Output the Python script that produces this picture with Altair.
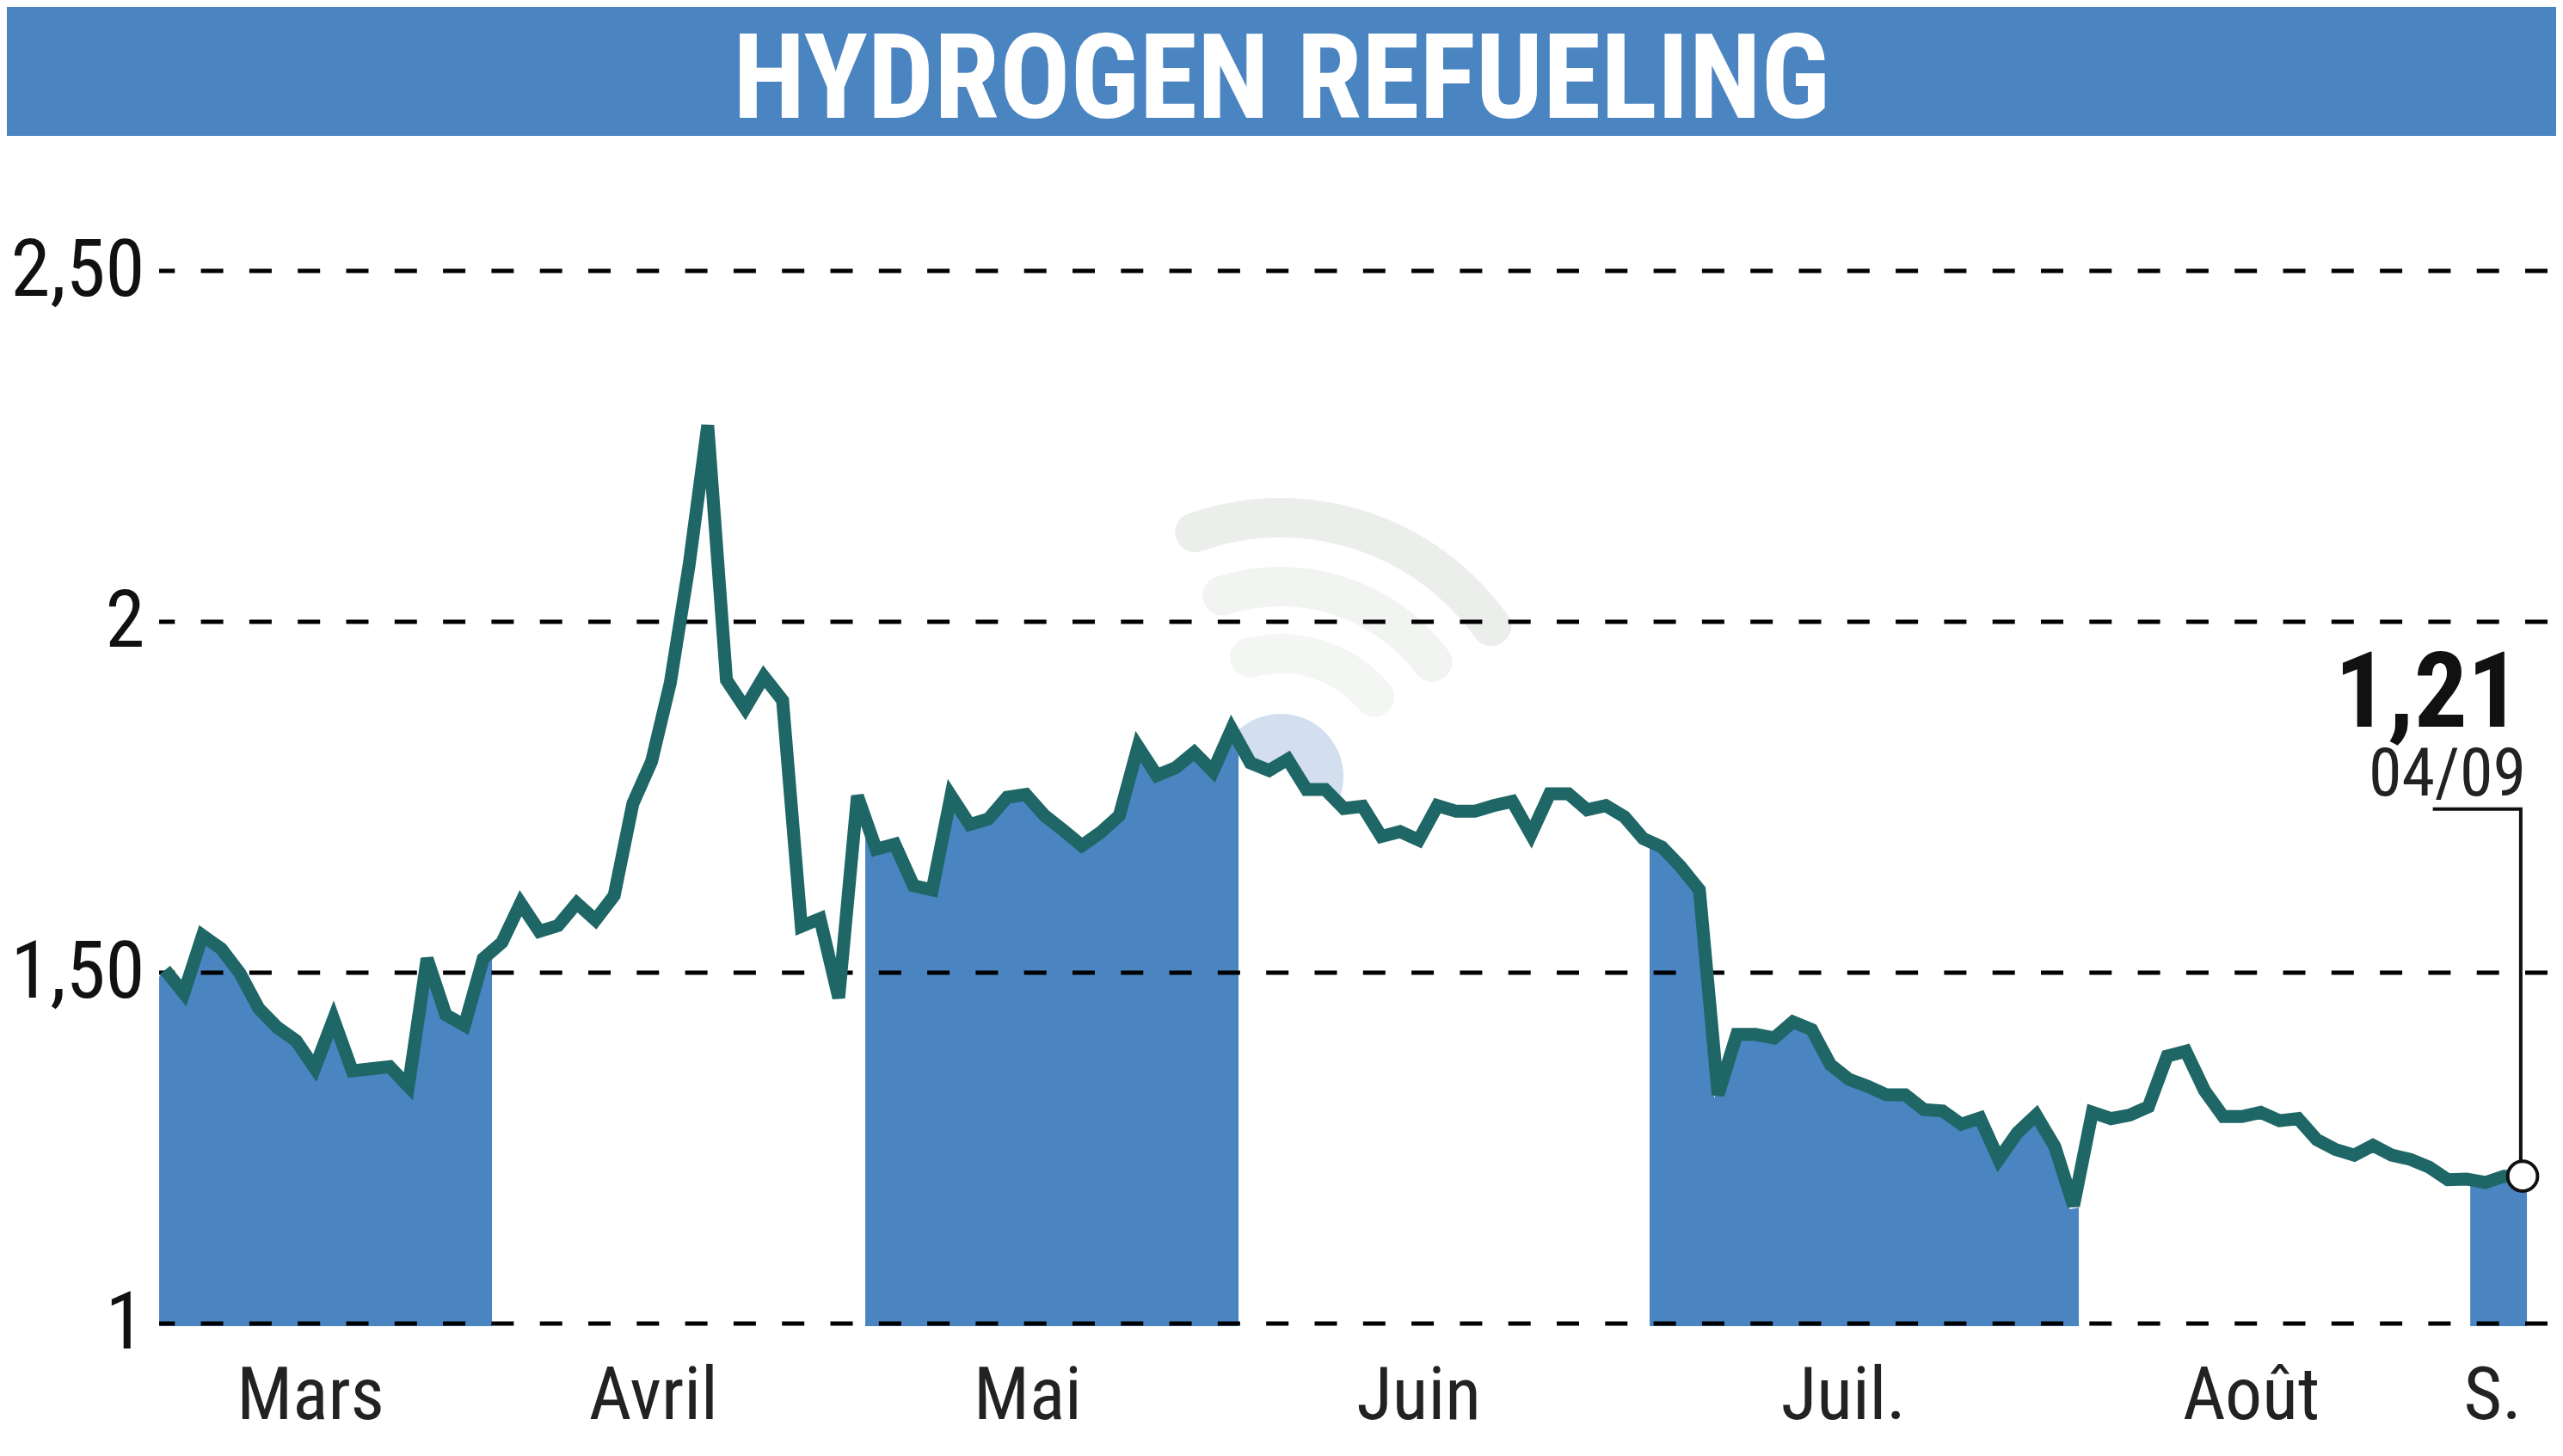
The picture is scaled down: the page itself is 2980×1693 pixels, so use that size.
import altair as alt
import pandas as pd

title_text = "HYDROGEN REFUELING"
last_value_text = "1,21"
last_date_text = "04/09"

closes = [
    1.504, 1.471, 1.553, 1.534, 1.499, 1.449, 1.422, 1.403, 1.364, 1.434,
    1.360, 1.363, 1.366, 1.338, 1.520, 1.440, 1.425, 1.520, 1.543, 1.599,
    1.559, 1.567, 1.599, 1.575, 1.610, 1.741, 1.801, 1.913, 2.080, 2.280,
    1.917, 1.877, 1.922, 1.888, 1.566, 1.577, 1.464, 1.752, 1.676, 1.683,
    1.624, 1.618, 1.752, 1.711, 1.719, 1.750, 1.754, 1.724, 1.703, 1.681,
    1.700, 1.724, 1.822, 1.781, 1.792, 1.814, 1.787, 1.847, 1.799, 1.788,
    1.804, 1.761, 1.761, 1.734, 1.737, 1.694, 1.701, 1.689, 1.738, 1.730,
    1.730, 1.738, 1.744, 1.697, 1.755, 1.755, 1.732, 1.738, 1.722, 1.691,
    1.679, 1.651, 1.618, 1.326, 1.412, 1.412, 1.407, 1.430, 1.419, 1.369,
    1.348, 1.338, 1.326, 1.326, 1.305, 1.303, 1.284, 1.293, 1.234, 1.272,
    1.297, 1.252, 1.168, 1.301, 1.292, 1.297, 1.309, 1.381, 1.388, 1.332,
    1.295, 1.295, 1.301, 1.289, 1.292, 1.262, 1.248, 1.240, 1.254, 1.240,
    1.234, 1.223, 1.205, 1.206, 1.201, 1.210, 1.210,
]
sessions = list(range(len(closes)))

y_ticks = [1, 1.5, 2, 2.5]

month_labels = ["Mars", "Avril", "Mai", "Juin", "Juil.", "Août", "S."]
month_centers = [7.77, 26.1, 46.1, 67.0, 89.7, 111.5, 124.4]

# shaded months: where each band stops and starts, and the height of its edges
band_names = ["Mars", "Mai", "Juil.", "S."]
band_starts = [-0.32, 37.42, 79.34, 123.2]
band_ends = [17.47, 57.37, 102.28, 126.23]
band_start_values = [1.494, 1.700, 1.680, 1.200]
band_end_values = [1.530, 1.810, 1.165, 1.205]

leader_x = [121.2, 125.9, 125.9]
leader_y = [1.733, 1.733, 1.21]

BLUE = "#4A84C1"
TEAL = "#1F6666"
FONT = "Roboto Condensed"

x_scale = alt.Scale(domain=[-0.322, 127.79], nice=False, zero=False)
y_scale = alt.Scale(domain=[1, 2.5], nice=False, zero=False)
y_axis = alt.Axis(
    values=y_ticks,
    domain=False,
    ticks=False,
    grid=False,
    labelFont=FONT,
    labelFontSize=93,
    labelColor="#111111",
    labelPadding=17,
    labelExpr="datum.value % 1 ? replace(format(datum.value, '.2f'), '.', ',') : format(datum.value, 'd')",
)
x_enc = alt.X("x:Q", scale=x_scale, axis=None)
y_enc = alt.Y("y:Q", scale=y_scale, axis=y_axis, title=None, stack=None)

line_df = pd.DataFrame({"x": sessions, "y": closes})

# the filled shape sits a little left of and below the price line
under_df = pd.DataFrame(
    {"x": [s - 0.2 for s in sessions], "y": [c - 0.005 for c in closes]}
)

band_rows = []
for name, start, end, v0, v1 in zip(
    band_names, band_starts, band_ends, band_start_values, band_end_values
):
    inside = under_df[(under_df["x"] > start) & (under_df["x"] < end)]
    band_rows.append(pd.DataFrame({"x": [start], "y": [v0], "band": [name]}))
    band_rows.append(inside.assign(band=name))
    band_rows.append(pd.DataFrame({"x": [end], "y": [v1], "band": [name]}))
band_df = pd.concat(band_rows, ignore_index=True)

blank = pd.DataFrame({"t": [""]})

header = (
    alt.Chart(blank)
    .mark_rect(color=BLUE)
    .encode(
        x=alt.value(-177),
        x2=alt.value(2787),
        y=alt.value(-307),
        y2=alt.value(-157),
    )
)

title = (
    alt.Chart(pd.DataFrame({"t": [title_text]}))
    .mark_text(
        font=FONT,
        fontWeight="bold",
        fontSize=137,
        color="white",
        align="center",
        baseline="alphabetic",
    )
    .encode(x=alt.value(1305), y=alt.value(-178), text="t:N")
)


def wave(inner, outer, colour):
    return (
        alt.Chart(blank)
        .mark_arc(
            theta=5.87,
            theta2=7.31,
            radius=outer,
            radius2=inner,
            cornerRadius=22,
            color=colour,
        )
        .encode(x=alt.value(1304), y=alt.value(588))
    )


waves = [
    wave(278, 324, "#ECEEEC"),
    wave(198, 244, "#F1F4F1"),
    wave(120, 166, "#F4F6F4"),
]

dot = (
    alt.Chart(blank)
    .mark_arc(theta=0, theta2=6.2832, radius=73, color="#D3DEEF")
    .encode(x=alt.value(1304), y=alt.value(588))
)

white_under = (
    alt.Chart(under_df)
    .mark_area(color="white")
    .encode(x=x_enc, y=y_enc, y2=alt.value(1227))
)

bands = (
    alt.Chart(band_df)
    .mark_area(color=BLUE)
    .encode(x=x_enc, y=y_enc, y2=alt.value(1227), detail="band:N")
)

grid = (
    alt.Chart(pd.DataFrame({"y": y_ticks}))
    .mark_rule(color="black", strokeWidth=5, strokeDash=[26, 30.3], strokeDashOffset=46.3)
    .encode(y=y_enc)
)

line = (
    alt.Chart(line_df)
    .mark_line(color=TEAL, strokeWidth=15, strokeJoin="miter", strokeMiterLimit=4)
    .encode(x=x_enc, y=y_enc)
)

leader = (
    alt.Chart(pd.DataFrame({"x": leader_x, "y": leader_y, "o": [0, 1, 2]}))
    .mark_line(color="#111111", strokeWidth=4, strokeJoin="miter")
    .encode(x=x_enc, y=y_enc, order="o:Q")
)

end_point = (
    alt.Chart(line_df.tail(1))
    .mark_point(filled=True, fill="white", stroke="#111111", strokeWidth=4, size=1200, opacity=1)
    .encode(x=x_enc, y=y_enc)
)

months = (
    alt.Chart(pd.DataFrame({"x": month_centers, "t": month_labels}))
    .mark_text(font=FONT, fontSize=86, color="#222222", align="center", baseline="alphabetic")
    .encode(x=x_enc, y=alt.value(1335), text="t:N")
)

last_value = (
    alt.Chart(pd.DataFrame({"t": [last_value_text]}))
    .mark_text(font=FONT, fontWeight="bold", fontSize=123, color="#111111", align="right", baseline="alphabetic")
    .encode(x=alt.value(2746), y=alt.value(530), text="t:N")
)

last_date = (
    alt.Chart(pd.DataFrame({"t": [last_date_text]}))
    .mark_text(font=FONT, fontSize=78, color="#222222", align="right", baseline="alphabetic")
    .encode(x=alt.value(2752), y=alt.value(610), text="t:N")
)

chart = (
    alt.layer(
        header,
        title,
        *waves,
        dot,
        white_under,
        bands,
        grid,
        line,
        leader,
        end_point,
        months,
        last_value,
        last_date,
    )
    .properties(
        width=2787,
        height=1224,
        padding={"left": 177, "top": 307, "right": 0, "bottom": 146},
        autosize=alt.AutoSizeParams(type="none"),
    )
    .configure_view(stroke=None)
)

chart.save("out.html", embed_options={"renderer": "svg", "actions": False})
